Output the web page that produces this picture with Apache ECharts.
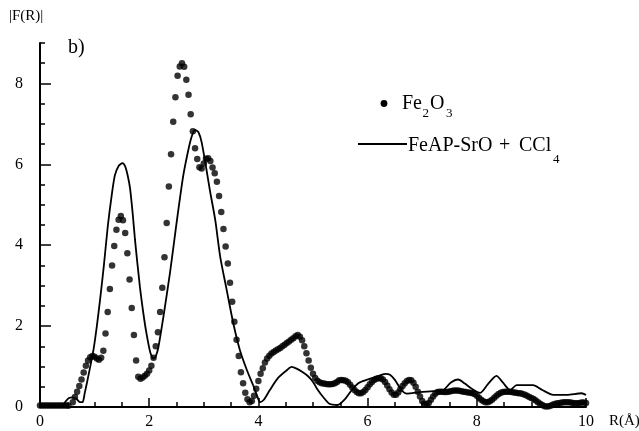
<!DOCTYPE html>
<html>
<head>
<meta charset="utf-8">
<script src="https://cdn.jsdelivr.net/npm/echarts@6/dist/echarts.min.js"></script>
<style>
html, body { margin: 0; padding: 0; background: #fff; }
#chart { width: 639px; height: 431px; }
</style>
</head>
<body>
<div id="chart"></div>
<script>
// Fe2O3 reference: |F(R)| sampled every rStep Å starting at R = 0
const rStep = 0.04;
const fe2o3F = [
  0.04, 0.04, 0.04, 0.04, 0.04, 0.04, 0.04, 0.04, 0.04, 0.04,
  0.04, 0.04, 0.04, 0.03, -0.02, 0.12, 0.25, 0.38, 0.52, 0.68,
  0.85, 1.02, 1.15, 1.23, 1.26, 1.24, 1.20, 1.17, 1.22, 1.39,
  1.82, 2.35, 2.92, 3.50, 3.98, 4.38, 4.63, 4.72, 4.62, 4.30,
  3.80, 3.15, 2.45, 1.78, 1.15, 0.75, 0.70, 0.73, 0.77, 0.82,
  0.90, 1.02, 1.22, 1.50, 1.85, 2.35, 2.95, 3.70, 4.55, 5.45,
  6.25, 7.05, 7.66, 8.19, 8.42, 8.50, 8.41, 8.09, 7.72, 7.24,
  6.82, 6.40, 6.13, 5.93, 5.90, 6.02, 6.14, 6.15, 6.08, 5.92,
  5.78, 5.57, 5.22, 4.82, 4.40, 3.97, 3.55, 3.07, 2.60, 2.11,
  1.66, 1.26, 0.86, 0.59, 0.35, 0.19, 0.12, 0.15, 0.28, 0.45,
  0.64, 0.82, 0.96, 1.10, 1.20, 1.27, 1.32, 1.36, 1.40, 1.43,
  1.46, 1.50, 1.54, 1.58, 1.62, 1.66, 1.70, 1.75, 1.78, 1.74,
  1.65, 1.50, 1.33, 1.15, 0.97, 0.82, 0.72, 0.65, 0.61, 0.59,
  0.58, 0.57, 0.56, 0.56, 0.57, 0.59, 0.62, 0.66, 0.67, 0.66,
  0.65, 0.61, 0.55, 0.48, 0.42, 0.37, 0.34, 0.34, 0.37, 0.42,
  0.49, 0.56, 0.62, 0.67, 0.70, 0.71, 0.71, 0.68, 0.62, 0.53,
  0.44, 0.36, 0.30, 0.30, 0.36, 0.44, 0.52, 0.59, 0.64, 0.67,
  0.66, 0.60, 0.50, 0.38, 0.26, 0.15, 0.08, 0.06, 0.10, 0.18,
  0.26, 0.33, 0.37, 0.38, 0.38, 0.37, 0.37, 0.38, 0.39, 0.40,
  0.41, 0.41, 0.40, 0.39, 0.38, 0.37, 0.36, 0.35, 0.34, 0.32,
  0.28, 0.23, 0.18, 0.14, 0.12, 0.12, 0.14, 0.18, 0.23, 0.28,
  0.32, 0.35, 0.37, 0.38, 0.38, 0.38, 0.37, 0.36, 0.35, 0.34,
  0.34, 0.32, 0.30, 0.28, 0.25, 0.22, 0.20, 0.16, 0.12, 0.08,
  0.05, 0.02, 0.01, 0.02, 0.04, 0.06, 0.08, 0.09, 0.10, 0.11,
  0.12, 0.12, 0.12, 0.11, 0.10, 0.09, 0.09, 0.10, 0.11, 0.11,
  0.10
];

// FeAP-SrO + CCl4: R (Å) and |F(R)|
const sampleR = [
  0, 0.40, 0.46, 0.53, 0.60, 0.67, 0.73, 0.78, 0.82, 0.86,
  0.92, 0.98, 1.04, 1.10, 1.17, 1.24, 1.31, 1.37, 1.44, 1.51,
  1.56, 1.61, 1.65, 1.70, 1.74, 1.83, 1.90, 1.95, 2.02, 2.08,
  2.12, 2.17, 2.26, 2.38, 2.50, 2.62, 2.70, 2.77, 2.84, 2.90,
  2.96, 3.05, 3.11, 3.21, 3.30, 3.42, 3.54, 3.66, 3.79, 3.90,
  3.97, 4.03, 4.10, 4.21, 4.36, 4.52, 4.61, 4.70, 4.80, 4.91,
  5.00, 5.07, 5.19, 5.30, 5.45, 5.59, 5.71, 5.83, 5.98, 6.17,
  6.32, 6.41, 6.50, 6.62, 6.72, 6.96, 7.20, 7.39, 7.52, 7.66,
  7.78, 7.91, 8.06, 8.20, 8.36, 8.48, 8.61, 8.73, 9.03, 9.20,
  9.40, 9.65, 9.92, 10.0
];
const sampleF = [
  0, 0.0, 0.12, 0.22, 0.24, 0.20, 0.12, 0.12, 0.35, 0.60,
  1.00, 1.42, 1.99, 2.65, 3.50, 4.45, 5.20, 5.72, 5.96, 6.03,
  5.95, 5.70, 5.40, 4.75, 4.13, 2.97, 2.25, 1.82, 1.35, 1.20,
  1.25, 1.49, 2.23, 3.31, 4.54, 5.69, 6.25, 6.65, 6.85, 6.80,
  6.55, 5.86, 5.37, 4.62, 3.72, 2.89, 2.07, 1.41, 0.91, 0.55,
  0.30, 0.12, 0.18, 0.42, 0.72, 0.91, 0.99, 0.95, 0.87, 0.76,
  0.62, 0.46, 0.24, 0.08, 0.05, 0.20, 0.42, 0.59, 0.67, 0.75,
  0.82, 0.80, 0.67, 0.42, 0.33, 0.37, 0.39, 0.42, 0.60, 0.68,
  0.58, 0.45, 0.35, 0.56, 0.77, 0.60, 0.42, 0.54, 0.54, 0.42,
  0.30, 0.30, 0.34, 0.30
];

const xMajor = [0, 2, 4, 6, 8, 10];
const yMajor = [0, 2, 4, 6, 8];

const serif = '"Liberation Serif", "Times New Roman", serif';
const ink = '#000';

const chart = echarts.init(document.getElementById('chart'), null, { renderer: 'canvas' });

const dotData = fe2o3F.map((v, i) => [+(i * rStep).toFixed(2), v]);
const lineData = sampleR.map((r, i) => [r, sampleF[i]]);

function label(text, x, y, size) {
  return {
    type: 'text',
    x, y,
    style: {
      text, fill: ink, font: `${size}px ${serif}`,
      align: 'left', verticalAlign: 'middle',
      textAlign: 'left', textVerticalAlign: 'middle'
    }
  };
}

chart.setOption({
  animation: false,
  backgroundColor: '#fff',
  grid: { left: 40, top: 43, width: 546, height: 364 },
  xAxis: [
    {
      type: 'value', min: 0, max: 10, interval: 0.5, position: 'bottom',
      axisLine: { lineStyle: { color: ink, width: 2 } },
      axisTick: { inside: true, length: 5, lineStyle: { color: ink, width: 1.5 } },
      axisLabel: { customValues: xMajor, color: ink, fontFamily: serif, fontSize: 16, margin: 7 },
      splitLine: { show: false }
    },
    {
      type: 'value', min: 0, max: 10, position: 'bottom',
      axisLine: { show: false },
      axisTick: { inside: true, length: 9, customValues: xMajor, lineStyle: { color: ink, width: 1.5 } },
      axisLabel: { show: false },
      splitLine: { show: false }
    }
  ],
  yAxis: [
    {
      type: 'value', min: 0, max: 9, interval: 0.5, position: 'left',
      axisLine: { lineStyle: { color: ink, width: 2 } },
      axisTick: { inside: true, length: 5, lineStyle: { color: ink, width: 1.5 } },
      axisLabel: { customValues: yMajor, color: ink, fontFamily: serif, fontSize: 16, margin: 17 },
      splitLine: { show: false }
    },
    {
      type: 'value', min: 0, max: 9, position: 'left',
      axisLine: { show: false },
      axisTick: { inside: true, length: 11, customValues: yMajor, lineStyle: { color: ink, width: 1.5 } },
      axisLabel: { show: false },
      splitLine: { show: false }
    }
  ],
  series: [
    {
      name: 'Fe2O3',
      type: 'scatter',
      data: dotData,
      symbol: 'circle',
      symbolSize: 6.5,
      itemStyle: { color: ink },
      z: 2
    },
    {
      name: 'FeAP-SrO + CCl4',
      type: 'line',
      data: lineData,
      showSymbol: false,
      smooth: 0.25,
      lineStyle: { color: ink, width: 1.8 },
      z: 3
    }
  ],
  graphic: [
    label('|F(R)|', 9, 16, 15),
    label('b)', 68, 48, 20),
    label('R(Å)', 609, 421, 15),
    { type: 'circle', shape: { cx: 384, cy: 103.5, r: 3.4 }, style: { fill: ink } },
    label('Fe', 402, 104, 20),
    label('2', 422.5, 114, 13),
    label('O', 430, 104, 20),
    label('3', 446, 114, 13),
    { type: 'line', shape: { x1: 358, y1: 144, x2: 407, y2: 144 }, style: { stroke: ink, lineWidth: 1.8 } },
    label('FeAP-SrO', 408, 146, 20),
    label('+', 499, 146, 20),
    label('CCl', 519, 146, 20),
    label('4', 553, 159.5, 13)
  ]
});

window.addEventListener('resize', () => chart.resize());
</script>
</body>
</html>
